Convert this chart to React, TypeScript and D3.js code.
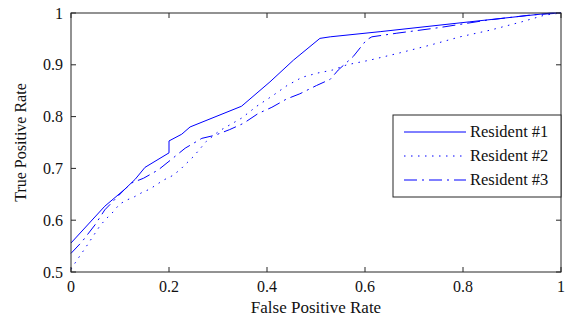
import React from "react";
import * as d3 from "d3";

const xTicks = [0, 0.2, 0.4, 0.6, 0.8, 1];
const yTicks = [0.5, 0.6, 0.7, 0.8, 0.9, 1];
const xTickLabels = ["0", "0.2", "0.4", "0.6", "0.8", "1"];
const yTickLabels = ["0.5", "0.6", "0.7", "0.8", "0.9", "1"];

const resident1: [number, number][] = [
  [0, 0.556], [0.069, 0.627], [0.11, 0.66], [0.131, 0.679], [0.151, 0.702], [0.2, 0.73],
  [0.2, 0.753], [0.226, 0.766], [0.243, 0.78], [0.348, 0.82], [0.406, 0.867], [0.454, 0.909],
  [0.508, 0.951], [0.529, 0.954], [0.631, 0.964], [0.814, 0.983], [0.98, 1.0], [1, 1],
];
const resident2: [number, number][] = [
  [0, 0.505], [0.008, 0.517], [0.018, 0.531], [0.029, 0.546], [0.059, 0.589], [0.071, 0.602],
  [0.086, 0.616], [0.099, 0.631], [0.114, 0.639], [0.129, 0.645], [0.146, 0.654], [0.161, 0.66],
  [0.175, 0.669], [0.19, 0.678], [0.207, 0.686], [0.222, 0.697], [0.251, 0.724], [0.276, 0.752],
  [0.302, 0.772], [0.348, 0.797], [0.379, 0.82], [0.411, 0.84], [0.441, 0.86], [0.472, 0.876],
  [0.503, 0.884], [0.534, 0.89], [0.563, 0.9], [0.61, 0.909], [0.671, 0.923], [0.733, 0.938],
  [0.794, 0.954], [0.856, 0.967], [0.92, 0.983], [0.967, 0.996], [1, 1],
];
const resident3: [number, number][] = [
  [0, 0.536], [0.022, 0.558], [0.049, 0.591], [0.069, 0.62], [0.11, 0.66], [0.124, 0.672],
  [0.148, 0.681], [0.178, 0.697], [0.205, 0.7175], [0.233, 0.739], [0.267, 0.758], [0.294, 0.764],
  [0.324, 0.775], [0.352, 0.787], [0.382, 0.806], [0.41, 0.818], [0.44, 0.834], [0.467, 0.844],
  [0.501, 0.86], [0.529, 0.872], [0.5455, 0.89], [0.576, 0.916], [0.603, 0.948], [0.614, 0.954],
  [0.665, 0.961], [0.753, 0.972], [0.848, 0.986], [0.937, 0.996], [1, 1],
];

const seriesNames = ["Resident #1", "Resident #2", "Resident #3"];
const seriesData = [resident1, resident2, resident3];
const dashes = ["none", "1.5,5.5", "13,5,2,5"];

const W = 568, H = 320;
const L = 71, R = 561, T = 13, B = 272;
const FONT = "Liberation Serif";
const BLUE = "#0000ff";
const AXIS = "#262626";

export default function App() {
  const x = d3.scaleLinear().domain([0, 1]).range([L, R]);
  const y = d3.scaleLinear().domain([0.5, 1]).range([B, T]);
  const line = d3.line<[number, number]>().x(d => x(d[0])).y(d => y(d[1]));
  const tl = 5;

  const legX = 393, legY = 115, legW = R - 393, legH = 82;
  const rows = [132, 156, 180];

  return (
    <svg width={W} height={H} style={{ position: "absolute", left: 0, top: 0, background: "#fff" }}>
      <rect x={0} y={0} width={W} height={H} fill="#fff" />
      {seriesData.map((d, i) => (
        <path key={i} d={line(d) || ""} fill="none" stroke={BLUE} strokeWidth={1}
          strokeDasharray={dashes[i]} />
      ))}
      <rect x={L} y={T} width={R - L} height={B - T} fill="none" stroke={AXIS} strokeWidth={1} />
      {xTicks.map((t, i) => (
        <g key={"x" + i}>
          <line x1={x(t)} x2={x(t)} y1={B} y2={B - tl} stroke={AXIS} />
          <line x1={x(t)} x2={x(t)} y1={T} y2={T + tl} stroke={AXIS} />
          <text x={x(t)} y={292} textAnchor="middle" fontFamily={FONT} fontSize={16} fill="#111">
            {xTickLabels[i]}
          </text>
        </g>
      ))}
      {yTicks.map((t, i) => (
        <g key={"y" + i}>
          <line x1={L} x2={L + tl} y1={y(t)} y2={y(t)} stroke={AXIS} />
          <line x1={R} x2={R - tl} y1={y(t)} y2={y(t)} stroke={AXIS} />
          <text x={63} y={y(t) + 5.5} textAnchor="end" fontFamily={FONT} fontSize={16} fill="#111">
            {yTickLabels[i]}
          </text>
        </g>
      ))}
      <text x={(L + R) / 2} y={313} textAnchor="middle" fontFamily={FONT} fontSize={17} fill="#111">
        False Positive Rate
      </text>
      <text transform={`translate(26,${(T + B) / 2}) rotate(-90)`} textAnchor="middle"
        fontFamily={FONT} fontSize={16} fill="#111">
        True Positive Rate
      </text>
      <rect x={legX} y={legY} width={legW} height={legH} fill="#fff" stroke={AXIS} strokeWidth={1} />
      {seriesNames.map((n, i) => (
        <g key={"l" + i}>
          <line x1={404} x2={466} y1={rows[i]} y2={rows[i]} stroke={BLUE} strokeWidth={1}
            strokeDasharray={dashes[i]} />
          <text x={470} y={rows[i] + 5} fontFamily={FONT} fontSize={16.5} fill="#111">{n}</text>
        </g>
      ))}
    </svg>
  );
}
